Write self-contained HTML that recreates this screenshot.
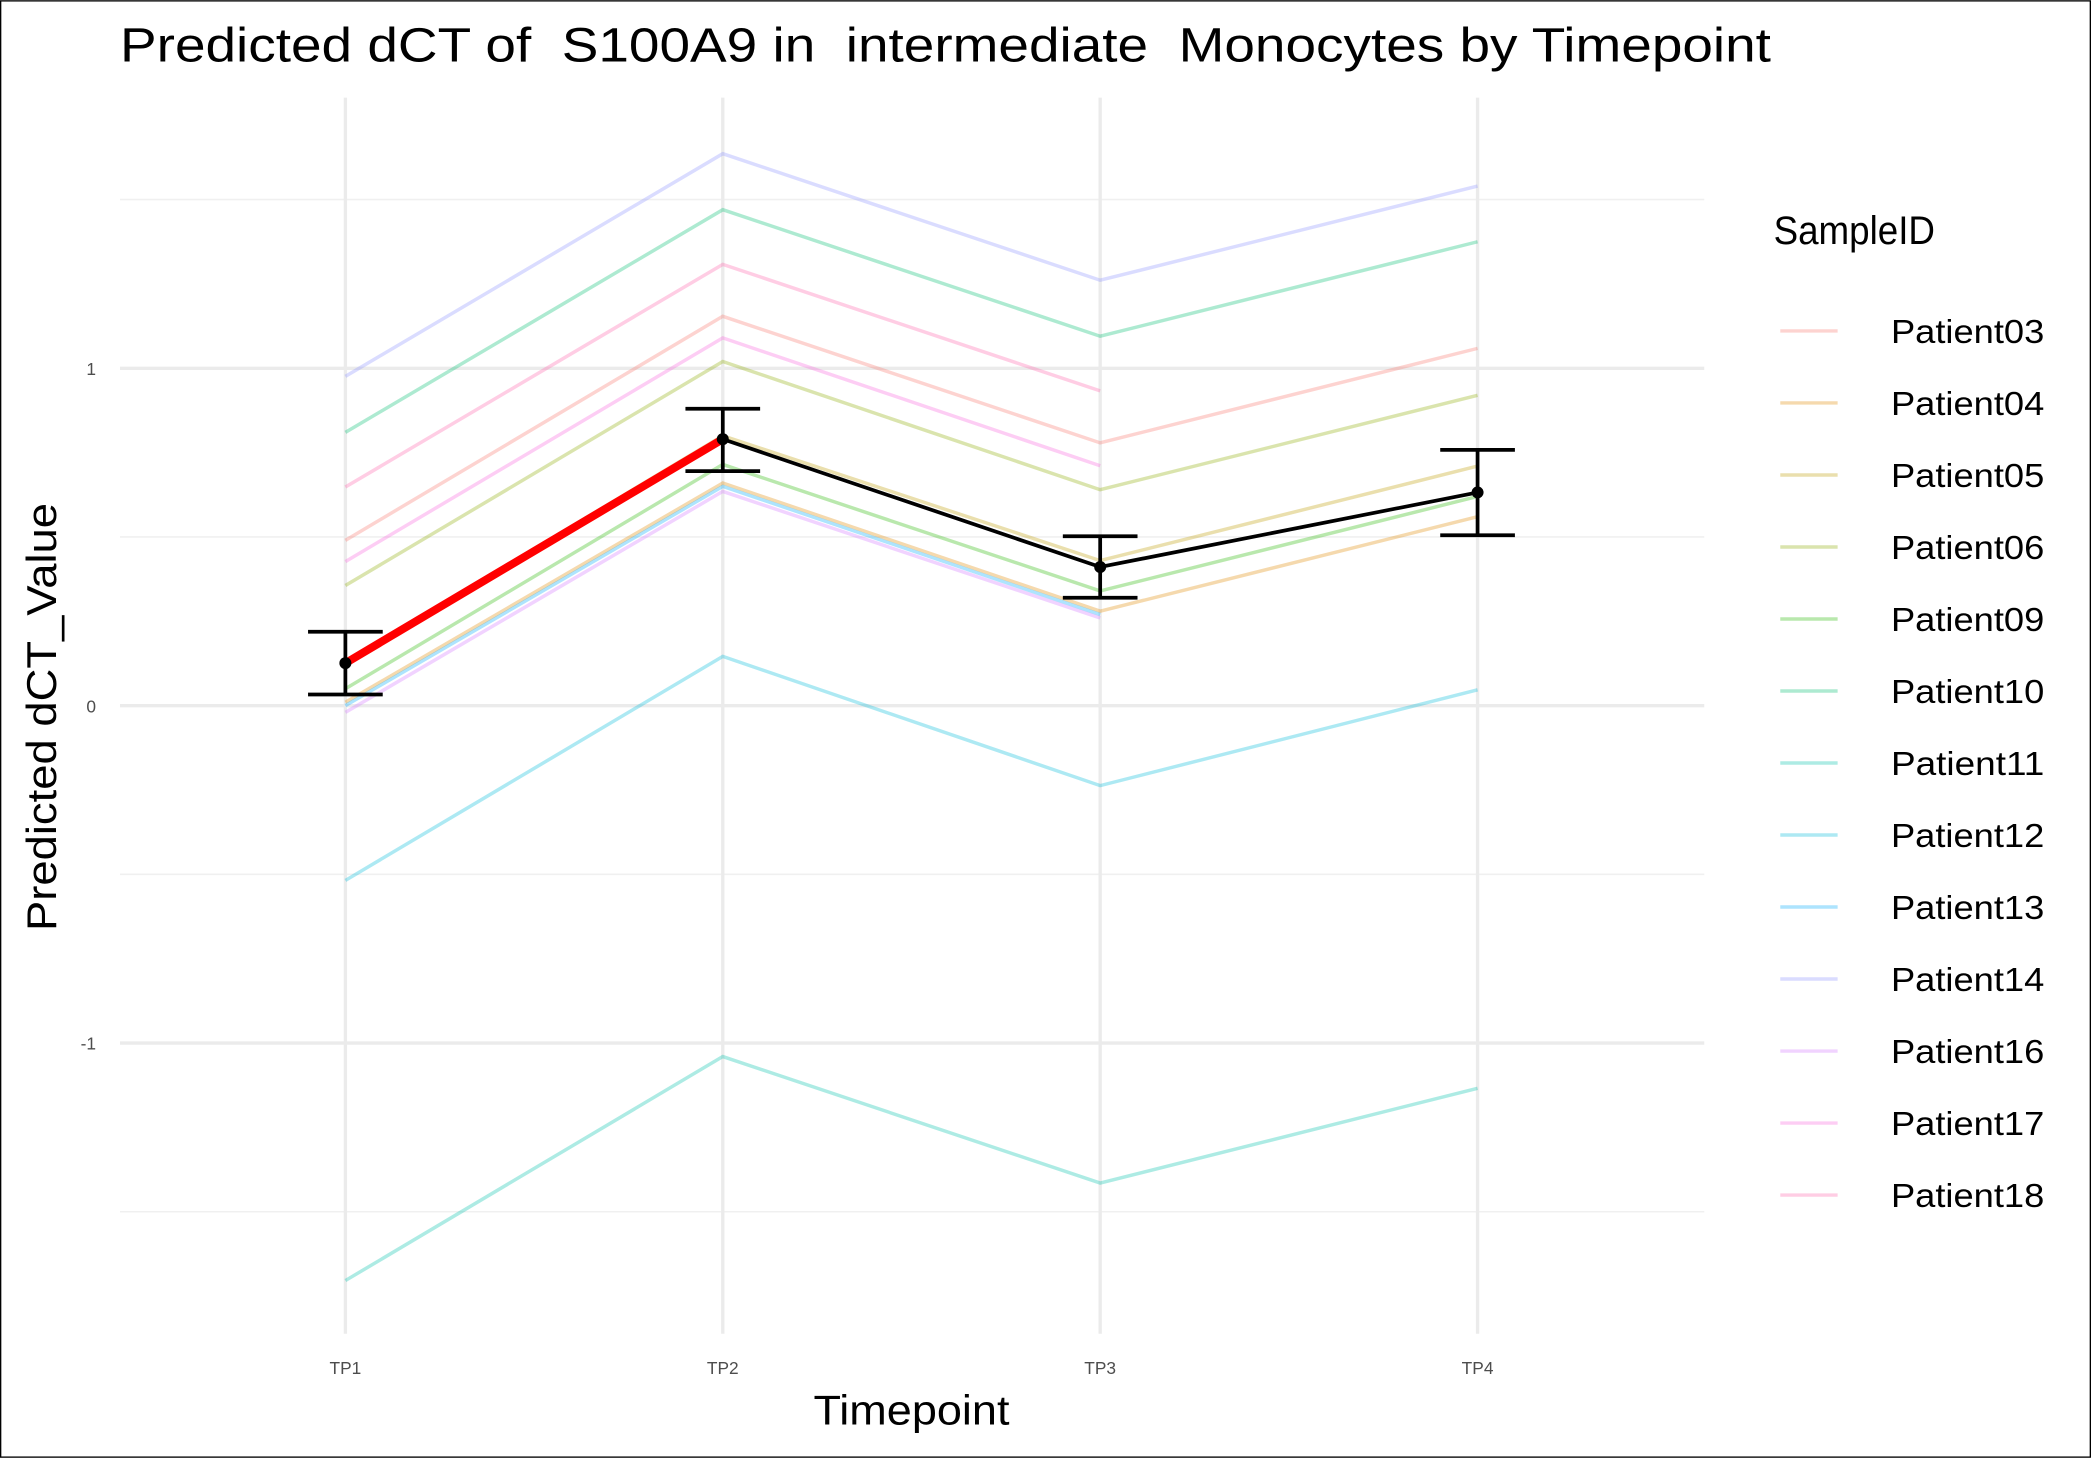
<!DOCTYPE html>
<html><head><meta charset="utf-8"><style>
html,body{margin:0;padding:0;background:#fff;}
svg{display:block;font-family:"Liberation Sans",Arial,sans-serif;}
</style></head><body>
<svg id="chart" width="2091" height="1458" viewBox="0 0 1568 1093" xmlns="http://www.w3.org/2000/svg">
<rect x="0.5" y="0.5" width="1567" height="1092" fill="#fff" stroke="#000" stroke-width="1"/>
<text x="90" y="46" font-size="36" fill="#000" style="white-space:pre" textLength="1238" lengthAdjust="spacingAndGlyphs">Predicted dCT of  S100A9 in  intermediate  Monocytes by Timepoint</text>
<g id="grid"></g>
<g id="series"></g>
<g id="mean"></g>
<g id="axes"></g>
<text x="610" y="1068" font-size="31" textLength="147" lengthAdjust="spacingAndGlyphs">Timepoint</text>
<text transform="translate(42,698) rotate(-90)" font-size="31" textLength="321" lengthAdjust="spacingAndGlyphs">Predicted dCT_Value</text>
<text x="1330" y="183" font-size="30" textLength="121" lengthAdjust="spacingAndGlyphs">SampleID</text>
<g id="legend"></g>
</svg>
<script>
const timepoints = ["TP1","TP2","TP3","TP4"];
const yTicks = [-1, 0, 1];
const yMinor = [-1.5, -0.5, 0.5, 1.5];
const patients = ["Patient03","Patient04","Patient05","Patient06","Patient09","Patient10","Patient11","Patient12","Patient13","Patient14","Patient16","Patient17","Patient18"];
const colors = ["#F8766D","#E18A00","#BE9C00","#8CAB00","#24B700","#00BE70","#00C1AB","#00BBDA","#00ACFC","#8B93FF","#D575FE","#F962DD","#FF65AC"];
const p03 = [0.49, 1.154, 0.779, 1.059];
const p04 = [0.01, 0.66, 0.28, 0.56];
const p05 = [0.13, 0.80, 0.43, 0.71];
const p06 = [0.356, 1.02, 0.64, 0.92];
const p09 = [0.05, 0.715, 0.34, 0.62];
const p10 = [0.81, 1.47, 1.095, 1.375];
const p11 = [-1.704, -1.04, -1.415, -1.134];
const p12 = [-0.518, 0.146, -0.237, 0.047];
const p13 = [0.0, 0.65, 0.27, null];
const p14 = [0.976, 1.636, 1.261, 1.54];
const p16 = [-0.02, 0.635, 0.26, null];
const p17 = [0.427, 1.09, 0.711, null];
const p18 = [0.648, 1.308, 0.933, null];
const meanVals = [0.126, 0.79, 0.411, 0.632];
const errLow = [0.033, 0.695, 0.32, 0.505];
const errHigh = [0.219, 0.88, 0.502, 0.758];
const seriesVals = [p03,p04,p05,p06,p09,p10,p11,p12,p13,p14,p16,p17,p18];

const NS = "http://www.w3.org/2000/svg";
const X0 = 259, DX = 283, Y0 = 529, DY = 253;
const xs = i => X0 + DX * i;
const ys = v => Y0 - DY * v;
function mk(tag, attrs, parent){const e=document.createElementNS(NS,tag);for(const k in attrs)e.setAttribute(k,attrs[k]);parent.appendChild(e);return e;}
const grid=document.getElementById('grid'), series=document.getElementById('series'), mean=document.getElementById('mean'), axes=document.getElementById('axes'), legend=document.getElementById('legend');
const L=90, R=1278, T=73, B=1000;
yMinor.forEach(v=>{const l=mk('line',{x1:L,x2:R,y1:ys(v),y2:ys(v),stroke:'#f0f0f0','stroke-width':1.2},grid);

});
yTicks.forEach(v=>{const l=mk('line',{x1:L,x2:R,y1:ys(v),y2:ys(v),stroke:'#ebebeb','stroke-width':2.5},grid);


const t=mk('text',{x:72,y:ys(v)+5,'font-size':13,fill:'#4d4d4d','text-anchor':'end'},axes);t.textContent=v;

});
timepoints.forEach((tp,i)=>{const l=mk('line',{x1:xs(i),x2:xs(i),y1:T,y2:B,stroke:'#ebebeb','stroke-width':2.5},grid);


const t=mk('text',{x:xs(i),y:1030,'font-size':13,fill:'#4d4d4d','text-anchor':'middle'},axes);t.textContent=tp;

});
seriesVals.forEach((vals,k)=>{const pts=[];vals.forEach((v,i)=>{if(v!==null)pts.push(xs(i)+','+ys(v));});
const p=mk('polyline',{points:pts.join(' '),fill:'none',stroke:colors[k],'stroke-opacity':0.32,'stroke-width':2.6},series);

});
const ml=mk('polyline',{points:meanVals.map((v,i)=>xs(i)+','+ys(v)).join(' '),fill:'none',stroke:'#000','stroke-width':2.8},mean);


const red=mk('line',{x1:xs(0),y1:ys(meanVals[0]),x2:xs(1),y2:ys(meanVals[1]),stroke:'#ff0000','stroke-width':6},mean);


meanVals.forEach((v,i)=>{const g=mk('g',{},mean);


mk('line',{x1:xs(i),x2:xs(i),y1:ys(errLow[i]),y2:ys(errHigh[i]),stroke:'#000','stroke-width':2.8},g);
mk('line',{x1:xs(i)-28,x2:xs(i)+28,y1:ys(errLow[i]),y2:ys(errLow[i]),stroke:'#000','stroke-width':2.8},g);
mk('line',{x1:xs(i)-28,x2:xs(i)+28,y1:ys(errHigh[i]),y2:ys(errHigh[i]),stroke:'#000','stroke-width':2.8},g);
const c=mk('circle',{cx:xs(i),cy:ys(v),r:4.5,fill:'#000'},mean);

});
patients.forEach((p,k)=>{const y=248+54*k;const g=mk('g',{},legend);


mk('line',{x1:1335,x2:1378,y1:y,y2:y,stroke:colors[k],'stroke-opacity':0.32,'stroke-width':2.6},g);
const t=mk('text',{x:1418,y:y+9,'font-size':25,textLength:115,lengthAdjust:'spacingAndGlyphs'},g);t.textContent=p;});
</script>
</body></html>
